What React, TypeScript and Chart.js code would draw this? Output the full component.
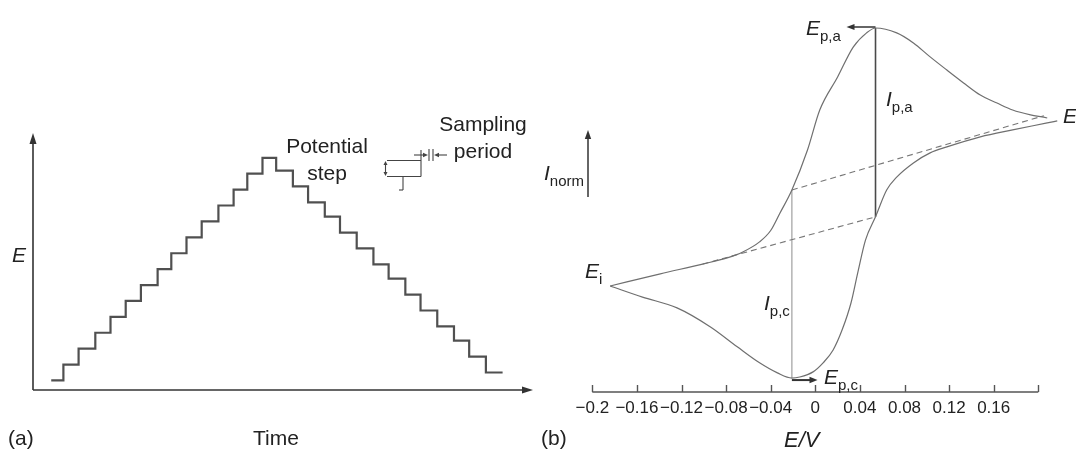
import React, { useEffect, useRef } from 'react';
import { Chart, registerables } from 'chart.js';

Chart.register(...registerables);

const FONT = "'Liberation Sans', Arial, Helvetica, sans-serif";
const INK = '#222';

// ---------- Panel (a): staircase potential waveform ----------
const upStepStarts = [1.2, 2.0, 3.0, 4.1, 5.1, 6.1, 7.1, 8.2, 9.1, 10.1, 11.1, 12.2, 13.2, 14.1, 15.1];
const upLevels = [0.6, 1.6, 2.6, 3.6, 4.6, 5.6, 6.6, 7.6, 8.6, 9.6, 10.6, 11.6, 12.6, 13.6, 14.6];
const downStepStarts = [16.0, 17.1, 18.1, 19.2, 20.2, 21.3, 22.4, 23.4, 24.5, 25.5, 26.6, 27.7, 28.7, 29.8];
const downLevels = [13.8, 12.8, 11.8, 10.9, 9.9, 8.9, 7.9, 7.0, 6.0, 5.0, 4.0, 3.1, 2.1, 1.1];
const scanEndTime = 30.9;

// ---------- Panel (b): cyclic voltammogram ----------
const forwardE = [-0.184, -0.139, -0.101, -0.079, -0.065, -0.05, -0.04, -0.032, -0.021, -0.007, 0.004, 0.02, 0.034, 0.046, 0.054, 0.073, 0.088, 0.103, 0.118, 0.133, 0.148, 0.163, 0.177, 0.193, 0.208, 0.217];
const forwardI = [0.0, 0.047, 0.085, 0.109, 0.132, 0.171, 0.215, 0.28, 0.372, 0.527, 0.682, 0.81, 0.926, 0.981, 1.0, 0.981, 0.942, 0.888, 0.837, 0.787, 0.74, 0.709, 0.682, 0.663, 0.651, 0.64];
const reverseE = [0.217, 0.208, 0.177, 0.148, 0.118, 0.103, 0.088, 0.073, 0.064, 0.054, 0.045, 0.038, 0.032, 0.024, 0.016, 0.007, -0.002, -0.014, -0.021, -0.034, -0.05, -0.07, -0.094, -0.124, -0.155, -0.184];
const reverseI = [0.64, 0.632, 0.605, 0.578, 0.539, 0.516, 0.477, 0.422, 0.372, 0.268, 0.178, 0.05, -0.066, -0.171, -0.248, -0.298, -0.333, -0.353, -0.357, -0.337, -0.298, -0.236, -0.159, -0.085, -0.043, 0.0];
const anodicBaselineE = [-0.101, 0.054];
const anodicBaselineI = [0.085, 0.268];
const cathodicBaselineE = [-0.021, 0.205];
const cathodicBaselineI = [0.372, 0.66];
const anodicPeakE = 0.054;
const anodicPeakI = 1.0;
const cathodicPeakE = -0.021;
const cathodicPeakI = -0.357;
const tickValues = [-0.2, -0.16, -0.12, -0.08, -0.04, 0, 0.04, 0.08, 0.12, 0.16, 0.2];
const tickLabels = ['\u22120.2', '\u22120.16', '\u22120.12', '\u22120.08', '\u22120.04', '0', '0.04', '0.08', '0.12', '0.16', ''];

const zip = (xs: number[], ys: number[]) => xs.map((x, i) => ({ x, y: ys[i] }));

function seg(ctx: CanvasRenderingContext2D, x1: number, y1: number, x2: number, y2: number) {
  ctx.beginPath();
  ctx.moveTo(x1, y1);
  ctx.lineTo(x2, y2);
  ctx.stroke();
}

function arrowHead(ctx: CanvasRenderingContext2D, tx: number, ty: number, dx: number, dy: number, len: number, half: number) {
  const bx = tx - dx * len;
  const by = ty - dy * len;
  const px = -dy;
  const py = dx;
  ctx.beginPath();
  ctx.moveTo(tx, ty);
  ctx.lineTo(bx + px * half, by + py * half);
  ctx.lineTo(bx - px * half, by - py * half);
  ctx.closePath();
  ctx.fill();
}

function StaircaseChart() {
  const ref = useRef<HTMLCanvasElement>(null);
  useEffect(() => {
    if (!ref.current) return;
    const pts = [
      ...zip(upStepStarts, upLevels),
      ...zip(downStepStarts, downLevels),
      { x: scanEndTime, y: downLevels[downLevels.length - 1] },
    ];
    const decor = {
      id: 'decorA',
      afterDatasetsDraw(chart: any) {
        const { ctx, chartArea: a } = chart;
        ctx.save();
        ctx.strokeStyle = '#333';
        ctx.fillStyle = '#333';
        ctx.lineWidth = 1.6;
        seg(ctx, a.left, a.bottom, a.left, a.top + 8);
        arrowHead(ctx, a.left, a.top, 0, -1, 11, 3.5);
        seg(ctx, a.left, a.bottom, a.right - 8, a.bottom);
        arrowHead(ctx, a.right, a.bottom, 1, 0, 11, 3.5);
        // inset: potential step and sampling period
        ctx.lineWidth = 1.1;
        ctx.strokeStyle = '#444';
        ctx.fillStyle = '#444';
        seg(ctx, 387, 160.5, 421, 160.5);
        seg(ctx, 387, 176.5, 421, 176.5);
        seg(ctx, 421, 150, 421, 176.5);
        seg(ctx, 403, 176.5, 403, 190);
        seg(ctx, 403, 190, 399, 190);
        seg(ctx, 385.5, 163, 385.5, 174);
        arrowHead(ctx, 385.5, 161, 0, -1, 4, 2);
        arrowHead(ctx, 385.5, 176, 0, 1, 4, 2);
        seg(ctx, 429, 149, 429, 161);
        seg(ctx, 433, 149, 433, 161);
        seg(ctx, 414, 155, 424, 155);
        arrowHead(ctx, 428, 155, 1, 0, 5, 2.2);
        seg(ctx, 437, 155, 447, 155);
        arrowHead(ctx, 434, 155, -1, 0, 5, 2.2);
        ctx.restore();
      },
    };
    const chart = new Chart(ref.current, {
      type: 'line',
      data: {
        datasets: [
          {
            data: pts,
            stepped: true,
            borderColor: '#505050',
            borderWidth: 2.2,
            pointRadius: 0,
            fill: false,
            clip: false,
          } as any,
        ],
      },
      options: {
        animation: false,
        responsive: false,
        events: [],
        layout: { padding: { left: 33, right: 27, top: 133, bottom: 0 } },
        plugins: { legend: { display: false }, tooltip: { enabled: false } },
        scales: {
          x: {
            type: 'linear',
            min: 0,
            max: 32.9,
            grid: { display: false, drawTicks: false },
            border: { display: false },
            ticks: { display: false },
            afterFit: (s: any) => {
              s.height = 64;
            },
          },
          y: { type: 'linear', min: 0, max: 16.16, display: false },
        },
      } as any,
      plugins: [decor],
    });
    return () => chart.destroy();
  }, []);
  return <canvas ref={ref} width={560} height={454} style={{ position: 'absolute', left: 0, top: 0 }} />;
}

function VoltammogramChart() {
  const ref = useRef<HTMLCanvasElement>(null);
  useEffect(() => {
    if (!ref.current) return;
    const curve = { borderColor: '#6f6f6f', borderWidth: 1.2, pointRadius: 0, fill: false, clip: false, cubicInterpolationMode: 'monotone' };
    const dashed = { borderColor: '#777', borderWidth: 1.1, borderDash: [6, 4], pointRadius: 0, fill: false, clip: false };
    const decor = {
      id: 'decorB',
      afterDatasetsDraw(chart: any) {
        const { ctx, chartArea: a, scales } = chart;
        const xs = scales.x;
        const ys = scales.y;
        ctx.save();
        ctx.strokeStyle = '#555';
        ctx.lineWidth = 1.4;
        seg(ctx, a.left, a.bottom, a.right, a.bottom);
        tickValues.forEach((v) => {
          const px = Math.round(xs.getPixelForValue(v)) + 0.5;
          seg(ctx, px, a.bottom - 7, px, a.bottom);
        });
        // I_norm arrow
        ctx.strokeStyle = '#333';
        ctx.fillStyle = '#333';
        ctx.lineWidth = 1.5;
        seg(ctx, 28, 197, 28, 138);
        arrowHead(ctx, 28, 130, 0, -1, 9, 3.2);
        // E_p,a arrow
        const ya = ys.getPixelForValue(anodicPeakI) - 1;
        const xa = xs.getPixelForValue(anodicPeakE);
        const xaEnd = xs.getPixelForValue(0.028);
        seg(ctx, xa, ya, xaEnd + 7, ya);
        arrowHead(ctx, xaEnd, ya, -1, 0, 8, 3);
        // E_p,c arrow
        const yc = ys.getPixelForValue(cathodicPeakI) + 2;
        const xc = xs.getPixelForValue(cathodicPeakE);
        const xcEnd = xs.getPixelForValue(0.002);
        ctx.lineWidth = 2;
        seg(ctx, xc, yc, xcEnd - 7, yc);
        arrowHead(ctx, xcEnd, yc, 1, 0, 8, 3.2);
        ctx.restore();
      },
    };
    const chart = new Chart(ref.current, {
      type: 'line',
      data: {
        datasets: [
          { ...curve, data: zip(forwardE, forwardI) },
          { ...curve, data: zip(reverseE, reverseI) },
          { ...dashed, data: zip(anodicBaselineE, anodicBaselineI) },
          { ...dashed, data: zip(cathodicBaselineE, cathodicBaselineI) },
          {
            data: [
              { x: anodicPeakE, y: anodicBaselineI[1] },
              { x: anodicPeakE, y: anodicPeakI },
            ],
            borderColor: '#4a4a4a',
            borderWidth: 1.6,
            pointRadius: 0,
            clip: false,
          },
          {
            data: [
              { x: cathodicPeakE, y: cathodicBaselineI[0] },
              { x: cathodicPeakE, y: cathodicPeakI },
            ],
            borderColor: '#a0a0a0',
            borderWidth: 1.2,
            pointRadius: 0,
            clip: false,
          },
        ] as any,
      },
      options: {
        animation: false,
        responsive: false,
        events: [],
        layout: { padding: { left: 32.3, right: 37.7, top: 28, bottom: 0 } },
        plugins: { legend: { display: false }, tooltip: { enabled: false } },
        scales: {
          x: {
            type: 'linear',
            min: -0.2,
            max: 0.2,
            afterBuildTicks: (s: any) => {
              s.ticks = tickValues.map((v) => ({ value: v }));
            },
            grid: { display: false, drawTicks: false },
            border: { display: false },
            ticks: {
              autoSkip: false,
              maxRotation: 0,
              minRotation: 0,
              padding: 6,
              color: INK,
              font: { family: FONT, size: 17 },
              callback: (_v: any, i: number) => tickLabels[i],
            },
            afterFit: (s: any) => {
              s.height = 62;
            },
          },
          y: { type: 'linear', min: -0.411, max: 1.0, display: false },
        },
      } as any,
      plugins: [decor],
    });
    return () => chart.destroy();
  }, []);
  return <canvas ref={ref} width={516} height={454} style={{ position: 'absolute', left: 560, top: 0 }} />;
}

function Txt({ left, top, children, style }: any) {
  return (
    <div
      style={{
        position: 'absolute',
        left,
        top,
        fontSize: 21,
        lineHeight: 1,
        whiteSpace: 'nowrap',
        fontFamily: FONT,
        color: INK,
        ...style,
      }}
    >
      {children}
    </div>
  );
}

function Sym({ left, top, main, sub }: any) {
  return (
    <Txt left={left} top={top}>
      <i>{main}</i>
      {sub ? <span style={{ fontSize: 15, position: 'relative', top: 6 }}>{sub}</span> : null}
    </Txt>
  );
}

export default function App() {
  return (
    <div style={{ position: 'fixed', left: 0, top: 0, width: 1076, height: 454, background: '#fff', overflow: 'hidden' }}>
      <StaircaseChart />
      <VoltammogramChart />
      {/* panel (a) labels */}
      <Sym left={12} top={244} main="E" />
      <Txt left={277} top={132} style={{ width: 100, textAlign: 'center', lineHeight: '27px' }}>
        Potential
        <br />
        step
      </Txt>
      <Txt left={433} top={110} style={{ width: 100, textAlign: 'center', lineHeight: '27px' }}>
        Sampling
        <br />
        period
      </Txt>
      <Txt left={8} top={427}>(a)</Txt>
      <Txt left={253} top={427}>Time</Txt>
      <Txt left={541} top={427}>(b)</Txt>
      {/* panel (b) labels */}
      <Txt left={784} top={429} style={{ fontStyle: 'italic', fontSize: 22 }}>E/V</Txt>
      <Sym left={806} top={17} main="E" sub="p,a" />
      <Sym left={886} top={88} main="I" sub="p,a" />
      <Sym left={1063} top={105} main="E" />
      <Sym left={585} top={260} main="E" sub="i" />
      <Sym left={764} top={292} main="I" sub="p,c" />
      <Sym left={824} top={366} main="E" sub="p,c" />
      <Sym left={544} top={162} main="I" sub="norm" />
    </div>
  );
}
